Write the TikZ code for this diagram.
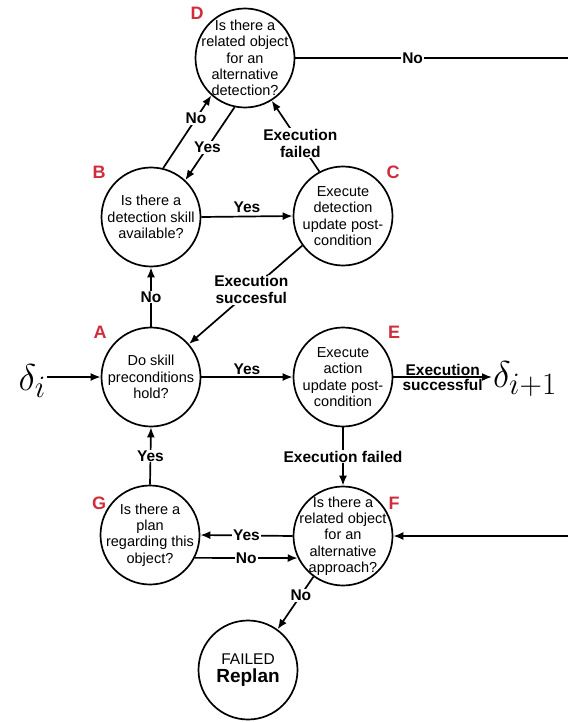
\documentclass[tikz,border=0pt]{standalone}
\usepackage{fontspec}
\setmainfont{Liberation Sans}
\usetikzlibrary{arrows.meta}
\definecolor{lblred}{RGB}{208,44,60}
\begin{document}
\begin{tikzpicture}[x=1pt,y=-1pt,
 st/.style={circle,draw,line width=1.7pt,minimum size=99pt,inner sep=-20pt,align=center,font=\fontsize{14.5}{16.3}\selectfont},
 lbl/.style={font=\bfseries\fontsize{15.5}{17}\selectfont, fill=white, inner sep=1pt, align=center},
 tag/.style={font=\bfseries\fontsize{18}{20}\selectfont,text=lblred},
 arr/.style={line width=1.7pt,-{Latex[length=10pt,width=8pt]}},
 ln/.style={line width=1.7pt},
 dlt/.style={font=\fontsize{24.88}{28}\selectfont,inner sep=0.5pt,scale=1.5}]
\useasboundingbox (0,0) rectangle (568,722);
% states
\node[st] (D) at (245,58) {Is there a\\related object\\for an\\alternative\\detection?};
\node[st] (B) at (151,217) {Is there a\\detection skill\\available?};
\node[st] (C) at (343,216) {Execute\\detection\\update post-\\condition};
\node[st] (A) at (151,377) {Do skill\\preconditions\\hold?};
\node[st] (E) at (343,377) {Execute\\action\\update post-\\condition};
\node[st] (G) at (150,535) {Is there a\\plan\\regarding this\\object?};
\node[st] (F) at (343,536) {Is there a\\related object\\for an\\alternative\\approach?};
\node[st] (R) at (248,670) {{\fontsize{15.5}{18}\selectfont FAILED}\\[1pt]{\bfseries\fontsize{19}{22}\selectfont Replan}};
% tags
\node[tag] (tD) at (197,13) {D};
\node[tag] (tB) at (99,172) {B};
\node[tag] (tC) at (393,172) {C};
\node[tag] (tA) at (100,332) {A};
\node[tag] (tE) at (394,332) {E};
\node[tag] (tG) at (99,503) {G};
\node[tag] (tF) at (394,503) {F};
% deltas
\node[dlt,anchor=east] (din) at (47,381) {$\delta_i$};
\node[dlt,anchor=west] (dout) at (492,379) {$\delta_{i+1}$};
\coordinate (Dr) at (568,58);
\coordinate (Fr) at (568,536);
% edges
\draw[arr] (din.east |- A.west) -- (A.west);
\draw[arr] (A.east) -- node[lbl,above=1pt,fill=none] {Yes} (E.west);
\draw[arr] (E.east) -- node[lbl,above=0pt,fill=none] {Execution} node[lbl,below=0pt,fill=none] {successful} (dout.west |- E.east);
\draw[arr] (A.north) -- node[lbl] {No} (B.south);
\draw[arr] (B.east) -- node[lbl,above=2pt,fill=none] {Yes} (C.west);
\draw[arr] (C.216) -- node[lbl,pos=0.45] {Execution\\succesful} (A.41);
\draw[arr] (B.76) -- node[lbl,pos=0.68] {No} (D.228);
\draw[arr] (D.258) -- node[lbl,pos=0.55] {Yes} (B.47);
\draw[arr] (C.118) -- node[lbl,pos=0.4] {Execution\\failed} (D.302);
\draw[ln] (D.east) -- node[lbl,pos=0.43] {No} (Dr);
\draw[arr] (E.south) -- node[lbl] {Execution failed} (F.north);
\draw[arr] (Fr) -- (F.east);
\draw[arr] (F.west) -- node[lbl,pos=0.5] {Yes} (G.east);
\draw[arr] (G.333) -- node[lbl] {No} (F.206);
\draw[arr] (G.north) -- node[lbl] {Yes} (A.south);
\draw[arr] (F.234) -- node[lbl,pos=0.35] {No} (R.54);
\end{tikzpicture}
\end{document}
